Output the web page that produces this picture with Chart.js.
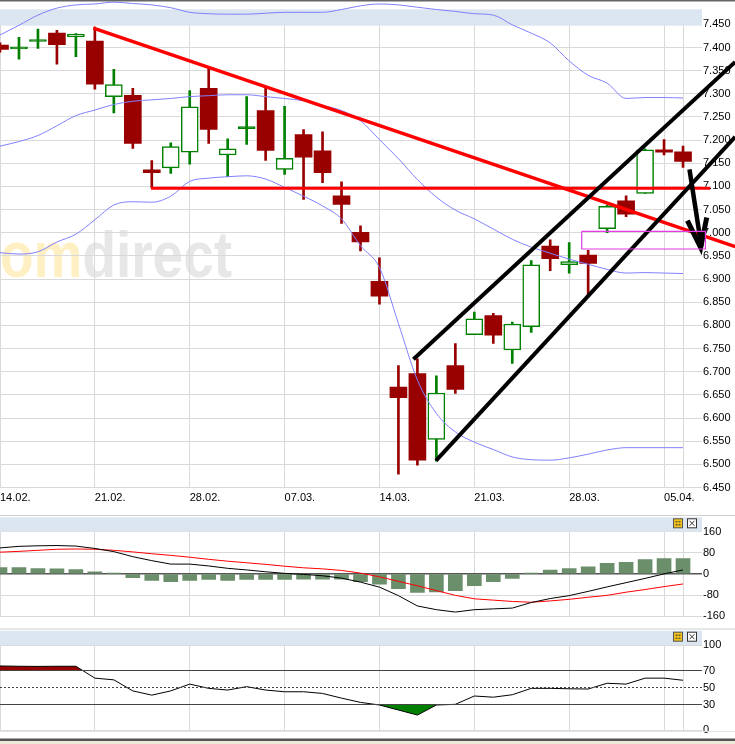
<!DOCTYPE html>
<html>
<head>
<meta charset="utf-8">
<script src="https://cdn.jsdelivr.net/npm/chart.js@4.4.0/dist/chart.umd.min.js"></script>
<style>
  html, body { margin: 0; padding: 0; background: #fff; }
  #wrap { position: relative; width: 735px; height: 744px; overflow: hidden; }
  canvas { position: absolute; left: 0; display: block; }
</style>
</head>
<body>
<div id="wrap">
  <canvas id="priceChart" width="735" height="516" style="top:0"></canvas>
  <canvas id="macdChart" width="735" height="114" style="top:516px"></canvas>
  <canvas id="rsiChart" width="735" height="114" style="top:630px"></canvas>
</div>
<script>
// --- data (one entry per trading day) ---
const dateLabels = ['14.02.', '21.02.', '28.02.', '07.03.', '14.03.', '21.03.', '28.03.', '05.04.'];
const dateTicks = [0, 5, 10, 15, 20, 25, 30, 35, 36];
const priceTicks = [6.45, 6.50, 6.55, 6.60, 6.65, 6.70, 6.75, 6.80, 6.85, 6.90, 6.95, 7.00,
                    7.05, 7.10, 7.15, 7.20, 7.25, 7.30, 7.35, 7.40, 7.45];
const macdTicks = [-160, -80, 0, 80, 160];
const rsiTicks = [0, 30, 50, 70, 100];
const rsiLevels = [30, 50, 70];

const opens  = [7.405, 7.397, 7.413, 7.431, 7.423, 7.414, 7.294, 7.297, 7.136, 7.140, 7.174, 7.312, 7.168,
                7.225, 7.264, 7.137, 7.212, 7.177, 7.080, 7.001, 6.895, 6.667, 6.696, 6.554, 6.713, 6.780,
                6.821, 6.747, 6.797, 6.971, 6.931, 6.952, 7.009, 7.069, 7.085, 7.179, 7.175];
const highs  = [7.410, 7.422, 7.440, 7.437, 7.430, 7.444, 7.353, 7.312, 7.156, 7.194, 7.307, 7.357, 7.203,
                7.294, 7.315, 7.273, 7.223, 7.218, 7.110, 7.015, 6.946, 6.713, 6.728, 6.691, 6.761, 6.829,
                6.826, 6.807, 6.940, 6.985, 6.979, 6.962, 7.060, 7.080, 7.181, 7.201, 7.187];
const lows   = [7.390, 7.375, 7.398, 7.364, 7.380, 7.310, 7.259, 7.182, 7.097, 7.128, 7.148, 7.193, 7.121,
                7.191, 7.156, 7.126, 7.072, 7.108, 7.020, 6.961, 6.846, 6.479, 6.498, 6.507, 6.653, 6.780,
                6.761, 6.718, 6.785, 6.918, 6.913, 6.865, 7.000, 7.035, 7.085, 7.168, 7.141];
const closes = [7.396, 7.400, 7.416, 7.406, 7.429, 7.321, 7.320, 7.193, 7.130, 7.186, 7.272, 7.223, 7.181,
                7.228, 7.178, 7.161, 7.163, 7.130, 7.061, 6.980, 6.863, 6.644, 6.509, 6.654, 6.662, 6.814,
                6.779, 6.803, 6.931, 6.944, 6.938, 6.934, 7.057, 7.040, 7.179, 7.174, 7.154];

const bbUpper  = [7.427, 7.448, 7.470, 7.485, 7.492, 7.494, 7.498, 7.495, 7.492, 7.486, 7.476, 7.473, 7.472,
                  7.472, 7.474, 7.476, 7.476, 7.476, 7.482, 7.490, 7.494, 7.492, 7.487, 7.482, 7.478, 7.473,
                  7.470, 7.449, 7.431, 7.410, 7.371, 7.340, 7.323, 7.290, 7.292, 7.292, 7.291];
const bbMiddle = [7.187, 7.197, 7.210, 7.231, 7.253, 7.265, 7.277, 7.284, 7.287, 7.290, 7.294, 7.296, 7.298,
                  7.298, 7.294, 7.290, 7.285, 7.275, 7.264, 7.242, 7.201, 7.160, 7.115, 7.077, 7.049, 7.030,
                  7.008, 6.986, 6.969, 6.956, 6.943, 6.932, 6.921, 6.913, 6.914, 6.913, 6.912];
const bbLower  = [6.957, 6.954, 6.959, 6.980, 6.997, 7.028, 7.060, 7.067, 7.066, 7.079, 7.111, 7.118, 7.121,
                  7.123, 7.116, 7.098, 7.079, 7.058, 7.030, 6.972, 6.925, 6.804, 6.682, 6.610, 6.570, 6.548,
                  6.532, 6.516, 6.510, 6.509, 6.514, 6.522, 6.531, 6.536, 6.536, 6.536, 6.536];

const macdLine   = [98, 104, 106, 107, 105, 96, 84, 65, 50, 37, 37, 30, 21, 15, 8, 2, -2, -7, -16, -31, -50,
                    -82, -121, -135, -144, -135, -132, -129, -108, -93, -82, -66, -49, -33, -17, 0, 15];
const signalLine = [82, 85, 89, 93, 94, 93, 89, 83, 76, 70, 63, 55, 48, 42, 36, 29, 23, 19, 13, 3, -11,
                    -28, -45, -63, -81, -94, -99, -104, -107, -102, -96, -88, -81, -69, -59, -48, -38];
const macdHist   = [24, 24, 20, 19, 16, 8, 2, -14, -25, -29, -25, -21, -25, -21, -21, -21, -20, -20, -20, -29,
                    -39, -56, -70, -68, -63, -44, -29, -17, 2, 14, 20, 27, 40, 44, 54, 58, 58];

const rsiValues = [75.3, 75, 74.8, 75, 75, 61, 59, 46, 41, 46, 54, 49, 47, 51, 47, 45, 45, 43, 37.5, 32.5,
                   29.4, 23.5, 17.6, 29.4, 30.2, 40, 38.6, 41.5, 49, 49, 48.5, 48.2, 55, 54, 61, 61, 58.5];

// hand drawn lines, as [day index, price]
const resistanceLine = [[4.92, 7.442], [38.75, 6.970]];
const supportLine    = [[7.96, 7.096], [37.43, 7.096]];
const channelTop     = [[21.79, 6.727], [38.75, 7.369]];
const channelBottom  = [[22.98, 6.508], [38.75, 7.207]];
const arrowShaft     = [[36.34, 7.137], [36.97, 6.970]];
const arrowHead      = [[36.23, 7.026], [36.93, 6.968], [37.25, 7.033]];
const targetBox      = [[30.66, 7.003], [37.18, 7.003], [37.18, 6.965], [30.66, 6.965], [30.66, 7.003]];

// --- helpers ---
const days = opens.map((_, i) => i);
const UP = '#008000';
const DOWN = '#990000';
const GRID = '#d9d9d9';
const BAND = '#dce6f1';
const isUp = i => closes[i] >= opens[i];
const isDoji = i => Math.abs(closes[i] - opens[i]) < 0.004;
const series = arr => arr.map((v, i) => ({ x: i, y: v }));
const toPts = arr => arr.map(([x, y]) => ({ x, y }));
const flat = v => [{ x: 0, y: v }, { x: 37, y: v }];

Chart.defaults.font.family = '"Liberation Sans", Arial, sans-serif';
Chart.defaults.font.size = 11;
Chart.defaults.color = '#000';

function xScale(showLabels, height) {
    return {
        type: 'linear',
        min: 0,
        max: 37,
        offset: false,
        grid: { color: GRID, drawTicks: false, offset: false },
        border: { display: false },
        ticks: {
            display: showLabels,
            align: 'start',
            padding: 4,
            autoSkip: false,
            maxRotation: 0,
            minRotation: 0,
            callback: (v, idx) => dateLabels[idx] || ''
        },
        afterBuildTicks: s => { s.ticks = dateTicks.map(v => ({ value: v })); },
        afterFit: s => {
            s.height = height;
            s.paddingLeft = 0;
            s.paddingRight = 0;
        }
    };
}

function yScale(min, max, ticks, fmt, grid) {
    return {
        type: 'linear',
        position: 'right',
        min: min,
        max: max,
        grid: Object.assign({ color: GRID, drawTicks: false }, grid),
        border: { display: false },
        ticks: { padding: 1, callback: fmt },
        afterBuildTicks: s => { s.ticks = ticks.map(v => ({ value: v })); },
        afterFit: s => {
            s.width = 33;
            s.paddingTop = 0;
            s.paddingBottom = 0;
        }
    };
}

function drawIcons(ctx, top) {
    ctx.fillStyle = '#f2c21b';
    ctx.fillRect(673.5, top, 9, 9);
    ctx.strokeStyle = '#555';
    ctx.lineWidth = 1;
    ctx.strokeRect(673.5, top, 9, 9);
    ctx.fillStyle = '#333';
    ctx.fillRect(675.5, top + 2.5, 2, 1);
    ctx.fillRect(678.5, top + 2.5, 2, 1);
    ctx.fillRect(675.5, top + 5.5, 2, 1);
    ctx.fillRect(678.5, top + 5.5, 2, 1);
    ctx.fillStyle = '#fff';
    ctx.fillRect(687.5, top, 9, 9);
    ctx.strokeStyle = '#333';
    ctx.strokeRect(687.5, top, 9, 9);
    ctx.beginPath();
    ctx.moveTo(689.5, top + 2); ctx.lineTo(694.5, top + 7);
    ctx.moveTo(694.5, top + 2); ctx.lineTo(689.5, top + 7);
    ctx.stroke();
}

// header band above each panel, plus separators
const panelFrame = {
    id: 'panelFrame',
    beforeDatasetsDraw(chart, args, opts) {
        const { ctx, chartArea } = chart;
        ctx.save();
        if (opts.clearTop) {
            ctx.fillStyle = '#fff';
            ctx.fillRect(0, 0, chartArea.right, opts.bandTop);
        }
        ctx.fillStyle = BAND;
        ctx.fillRect(0, opts.bandTop, chartArea.right, opts.bandBottom - opts.bandTop);
        if (opts.icons) drawIcons(ctx, opts.bandTop + 1.5);
        ctx.restore();
    },
    afterDraw(chart, args, opts) {
        const { ctx, width } = chart;
        ctx.save();
        (opts.lines || []).forEach(l => {
            ctx.fillStyle = l.color;
            ctx.fillRect(0, l.y, width, l.h);
        });
        ctx.restore();
    }
};

// faded broker logo behind the price panel
const watermark = {
    id: 'watermark',
    beforeDraw(chart) {
        const { ctx } = chart;
        ctx.save();
        ctx.font = 'bold 56px "Liberation Sans", Arial, sans-serif';
        const sx = 232 / ctx.measureText('omdirect').width;
        ctx.translate(0, 277);
        ctx.scale(sx, 1.17);
        ctx.textBaseline = 'alphabetic';
        ctx.textAlign = 'right';
        ctx.fillStyle = '#fff0c4';
        const dx = ctx.measureText('om').width;
        ctx.fillText('com', dx, 0);
        ctx.textAlign = 'left';
        ctx.fillStyle = '#e7e7e7';
        ctx.fillText('direct', dx, 0);
        ctx.restore();
    }
};

const common = {
    responsive: false,
    animation: false,
    events: []
};

// --- price panel ---
new Chart(document.getElementById('priceChart'), {
    type: 'bar',
    data: {
        datasets: [
            {
                label: 'wick',
                data: days.map(i => ({ x: i, y: [lows[i], highs[i]] })),
                barThickness: 2,
                grouped: false,
                backgroundColor: c => isUp(c.dataIndex) ? UP : DOWN,
                order: 6
            },
            {
                label: 'body',
                data: days.map(i => ({ x: i, y: [opens[i], closes[i]] })),
                barThickness: 17,
                minBarLength: 2,
                grouped: false,
                borderSkipped: false,
                backgroundColor: c => isUp(c.dataIndex) ? (isDoji(c.dataIndex) ? UP : '#fff') : DOWN,
                borderColor: c => isUp(c.dataIndex) ? UP : DOWN,
                borderWidth: c => isUp(c.dataIndex) ? 1.5 : 0,
                order: 5
            },
            ...[bbUpper, bbMiddle, bbLower].map(arr => ({
                type: 'line',
                data: series(arr),
                borderColor: '#8080ff',
                borderWidth: 1,
                pointRadius: 0,
                cubicInterpolationMode: 'monotone',
                order: 4
            })),
            { type: 'line', data: toPts(resistanceLine), borderColor: '#ff0000', borderWidth: 3.5, pointRadius: 0, clip: false, order: 3 },
            { type: 'line', data: toPts(supportLine), borderColor: '#ff0000', borderWidth: 3, pointRadius: 0, clip: false, order: 3 },
            { type: 'line', data: toPts(channelTop), borderColor: '#000', borderWidth: 4, pointRadius: 0, clip: false, order: 2 },
            { type: 'line', data: toPts(channelBottom), borderColor: '#000', borderWidth: 4, pointRadius: 0, clip: false, order: 2 },
            { type: 'line', data: toPts(targetBox), borderColor: '#e23ce2', borderWidth: 1.2, pointRadius: 0, clip: false, order: 1 },
            { type: 'line', data: toPts(arrowShaft), borderColor: '#000', borderWidth: 4.5, pointRadius: 0, clip: false, order: 1 },
            { type: 'line', data: toPts(arrowHead), borderColor: '#000', borderWidth: 5, borderJoinStyle: 'miter', pointRadius: 0, clip: false, order: 1 }
        ]
    },
    options: {
        ...common,
        layout: { autoPadding: false, padding: 0 },
        scales: {
            x: xScale(true, 28.5),
            y: yScale(6.45, 7.5026, priceTicks, v => v.toFixed(3))
        },
        plugins: {
            legend: { display: false },
            tooltip: { enabled: false },
            panelFrame: {
                clearTop: true,
                bandTop: 9.3,
                bandBottom: 25.7,
                lines: [{ y: 0, h: 1.5, color: '#666' }, { y: 515, h: 1, color: '#d0d0d0' }]
            }
        }
    },
    plugins: [watermark, panelFrame]
});

// --- MACD panel ---
new Chart(document.getElementById('macdChart'), {
    type: 'bar',
    data: {
        datasets: [
            {
                label: 'histogram',
                data: series(macdHist),
                barThickness: 14,
                backgroundColor: '#6b8e6b',
                order: 3
            },
            { type: 'line', data: series(macdLine), borderColor: '#000', borderWidth: 1, pointRadius: 0, order: 1 },
            { type: 'line', data: series(signalLine), borderColor: '#ff0000', borderWidth: 1, pointRadius: 0, order: 2 }
        ]
    },
    options: {
        ...common,
        layout: { autoPadding: false, padding: { top: 15.5, bottom: 13.7, left: 0, right: 0 } },
        scales: {
            x: xScale(false, 0),
            y: yScale(-160, 160, macdTicks, v => String(v), {
                color: c => c.tick.value === 0 ? '#555' : GRID,
                lineWidth: c => c.tick.value === 0 ? 1.5 : 1
            })
        },
        plugins: {
            legend: { display: false },
            tooltip: { enabled: false },
            panelFrame: {
                bandTop: 1.3,
                bandBottom: 15.7,
                icons: true,
                lines: [{ y: 112.5, h: 1, color: '#d0d0d0' }]
            }
        }
    },
    plugins: [panelFrame]
});

// --- RSI panel ---
new Chart(document.getElementById('rsiChart'), {
    type: 'line',
    data: {
        datasets: [
            {
                data: series(rsiValues),
                borderColor: '#000',
                borderWidth: 1,
                pointRadius: 0,
                fill: { target: { value: 70 }, above: '#990000', below: 'rgba(0,0,0,0)' },
                order: 1
            },
            {
                data: series(rsiValues),
                borderColor: 'rgba(0,0,0,0)',
                borderWidth: 0,
                pointRadius: 0,
                fill: { target: { value: 30 }, above: 'rgba(0,0,0,0)', below: '#008000' },
                order: 2
            },
            ...rsiLevels.map(v => ({
                data: flat(v),
                borderColor: '#444',
                borderWidth: 1,
                borderDash: v === 50 ? [2, 2] : [],
                pointRadius: 0,
                order: 0
            }))
        ]
    },
    options: {
        ...common,
        layout: { autoPadding: false, padding: { top: 15, bottom: 14, left: 0, right: 0 } },
        scales: {
            x: xScale(false, 0),
            y: yScale(0, 100, rsiTicks, v => String(v), {
                color: c => rsiLevels.includes(c.tick.value) ? 'rgba(0,0,0,0)' : GRID
            })
        },
        plugins: {
            legend: { display: false },
            tooltip: { enabled: false },
            panelFrame: {
                bandTop: 0.7,
                bandBottom: 15,
                icons: true,
                lines: [
                    { y: 101, h: 1, color: '#e4e4e4' },
                    { y: 108.5, h: 2.5, color: '#555' },
                    { y: 111, h: 3, color: '#ece9d8' }
                ]
            }
        }
    },
    plugins: [panelFrame]
});
</script>
</body>
</html>
